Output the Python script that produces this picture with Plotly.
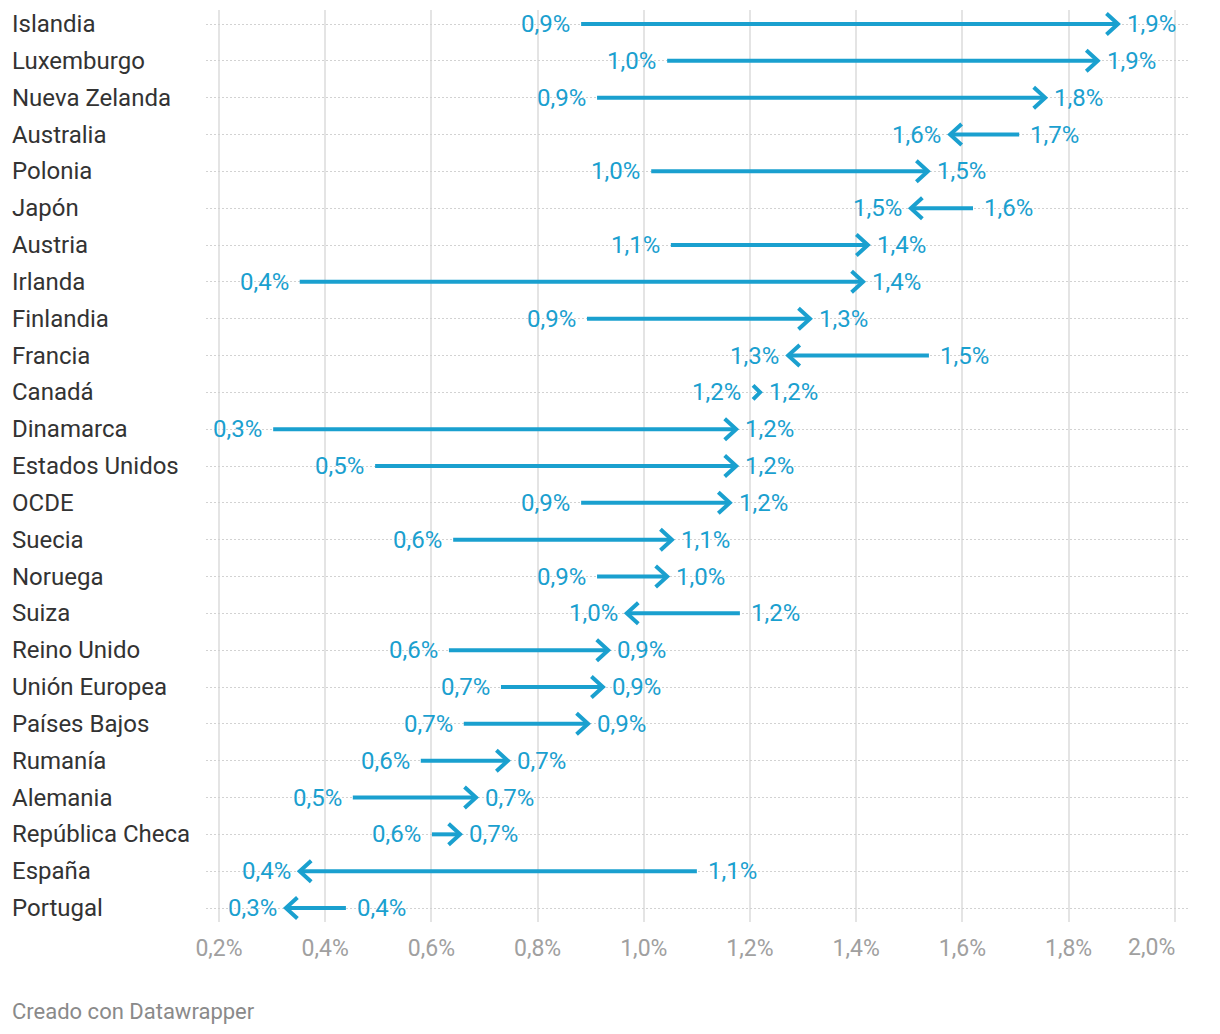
import plotly.graph_objects as go

countries = ["Islandia", "Luxemburgo", "Nueva Zelanda", "Australia", "Polonia", "Japón",
             "Austria", "Irlanda", "Finlandia", "Francia", "Canadá", "Dinamarca",
             "Estados Unidos", "OCDE", "Suecia", "Noruega", "Suiza", "Reino Unido",
             "Unión Europea", "Países Bajos", "Rumanía", "Alemania", "República Checa",
             "España", "Portugal"]
start_vals = [0.882, 1.044, 0.912, 1.707, 1.014, 1.620, 1.051, 0.352, 0.893, 1.537, 1.204, 0.302,
              0.494, 0.882, 0.641, 0.912, 1.181, 0.633, 0.731, 0.661, 0.580, 0.452, 0.601,
              1.100, 0.439]
end_vals = [1.893, 1.855, 1.756, 1.577, 1.535, 1.503, 1.422, 1.413, 1.313, 1.272, 1.219, 1.174,
            1.174, 1.162, 1.053, 1.044, 0.968, 0.933, 0.923, 0.895, 0.744, 0.684, 0.654,
            0.352, 0.326]
x_ticks = [0.2, 0.4, 0.6, 0.8, 1.0, 1.2, 1.4, 1.6, 1.8, 2.0]
x_tick_text = ["0,2%", "0,4%", "0,6%", "0,8%", "1,0%", "1,2%", "1,4%", "1,6%", "1,8%", "2,0%"]

BLUE = "#1aa0cf"
W, H = 1220, 1034
ML, MR, MT, MB = 206, 30, 10, 112
XR = [0.1755, 2.0287]
n = len(countries)
YR = [n - 1 + 0.38, -0.38]
pw = W - ML - MR
ph = H - MT - MB
px_x = pw / (XR[1] - XR[0])   # px per data unit
px_y = ph / abs(YR[0] - YR[1])
TICK_FONT = dict(size=23, color="#a0a0a0", family="Roboto")


def fmt(v):
    return f"{v:.1f}".replace(".", ",") + "%"


shaft_x, shaft_y, head_x, head_y = [], [], [], []
annotations = []
for i, (c, s, e) in enumerate(zip(countries, start_vals, end_vals)):
    d = 1 if e >= s else -1
    length_px = abs(e - s) * px_x
    hw = min(11.5, max(7.0, length_px * 0.85))   # head depth in px
    hh = min(10.5, max(7.0, length_px * 0.8))    # half height in px
    if length_px > hw + 2:
        shaft_x += [s, e - d * 2 / px_x, None]
        shaft_y += [i, i, None]
    head_x += [e - d * hw / px_x, e, e - d * hw / px_x, None]
    head_y += [i - hh / px_y, i, i + hh / px_y, None]
    annotations.append(dict(x=s, y=i, xref="x", yref="y", text=fmt(s), showarrow=False,
                            xanchor="right" if d > 0 else "left", xshift=-9 * d,
                            font=dict(size=24, color=BLUE, family="Roboto")))
    annotations.append(dict(x=e, y=i, xref="x", yref="y", text=fmt(e), showarrow=False,
                            xanchor="left" if d > 0 else "right", xshift=7 * d,
                            font=dict(size=24, color=BLUE, family="Roboto")))
    annotations.append(dict(x=(10 - ML) / pw, y=i, xref="paper", yref="y", text=c,
                            showarrow=False, xanchor="left",
                            font=dict(size=24, color="#333333", family="Roboto")))

# last tick label is right-aligned to its gridline
tick_text_shown = x_tick_text[:-1] + [""]
annotations.append(dict(x=x_ticks[-1], y=-(948 - (H - MB)) / ph, xref="x", yref="paper",
                        text=x_tick_text[-1], showarrow=False, xanchor="right",
                        yanchor="middle", xshift=2, font=TICK_FONT))

annotations.append(dict(x=(10 - ML) / pw, y=-(1011 - (H - MB)) / ph, xref="paper", yref="paper",
                        text="Creado con Datawrapper", showarrow=False, xanchor="left",
                        yanchor="middle",
                        font=dict(size=22, color="#8a8a8a", family="Roboto")))

fig = go.Figure()
fig.add_trace(go.Scatter(x=shaft_x, y=shaft_y, mode="lines",
                         line=dict(color=BLUE, width=4), hoverinfo="skip"))
fig.add_trace(go.Scatter(x=head_x, y=head_y, mode="lines",
                         line=dict(color=BLUE, width=4), hoverinfo="skip"))

fig.update_layout(
    width=W, height=H,
    margin=dict(l=ML, r=MR, t=MT, b=MB),
    paper_bgcolor="white", plot_bgcolor="white",
    showlegend=False,
    font=dict(family="Roboto"),
    annotations=annotations,
    xaxis=dict(range=XR, tickvals=x_ticks, ticktext=tick_text_shown, showgrid=True,
               gridcolor="#e4e4e4", gridwidth=2, zeroline=False, showline=False,
               ticks="outside", ticklen=5, tickcolor="rgba(0,0,0,0)",
               tickfont=TICK_FONT, fixedrange=True),
    yaxis=dict(range=YR, tickvals=list(range(n)), showticklabels=False, showgrid=True,
               gridcolor="#d2d2d2", gridwidth=1, griddash="2px,2px", zeroline=False,
               showline=False, fixedrange=True),
)

fig.write_html("out.html")
